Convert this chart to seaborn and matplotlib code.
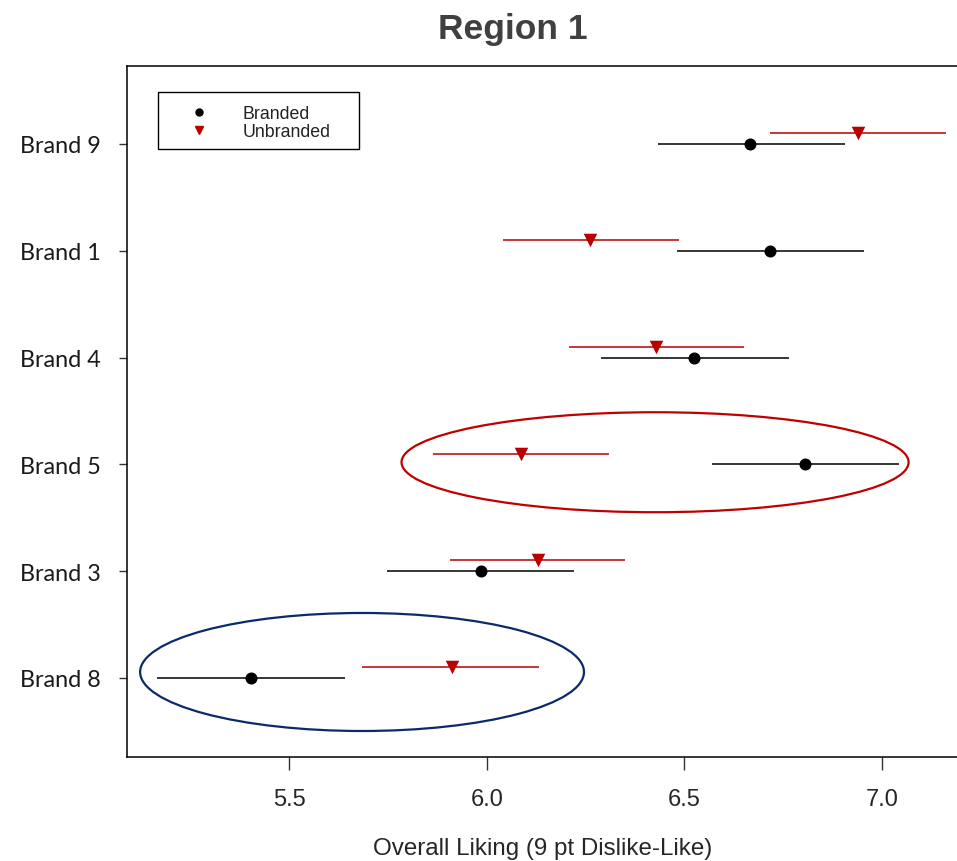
import matplotlib
matplotlib.use("Agg")
import matplotlib.pyplot as plt
from matplotlib.patches import Ellipse, Rectangle
from matplotlib.lines import Line2D
import seaborn as sns
import pandas as pd
import numpy as np

brands = ["Brand 8", "Brand 3", "Brand 5", "Brand 4", "Brand 1", "Brand 9"]
branded_mean = [5.404, 5.985, 6.805, 6.525, 6.716, 6.667]
branded_lo = [5.165, 5.746, 6.569, 6.289, 6.482, 6.434]
branded_hi = [5.642, 6.221, 7.043, 6.766, 6.954, 6.906]
unbranded_mean = [5.911, 6.129, 6.086, 6.429, 6.261, 6.939]
unbranded_lo = [5.685, 5.906, 5.863, 6.208, 6.041, 6.716]
unbranded_hi = [6.132, 6.350, 6.310, 6.652, 6.487, 7.162]

sns.set_style("white")
plt.rcParams['font.family'] = ['Liberation Sans', 'DejaVu Sans']

fig = plt.figure(figsize=(9.57, 8.62), dpi=100)
ax = fig.add_axes([127/957, 104/862, 1 - 127/957 + 0.002, 691/862])

ypos = np.arange(1, len(brands) + 1)
off = 0.1
df_b = pd.DataFrame({"y": ypos, "x": branded_mean, "lo": branded_lo, "hi": branded_hi})
df_u = pd.DataFrame({"y": ypos + off, "x": unbranded_mean, "lo": unbranded_lo, "hi": unbranded_hi})

RED = "#B80000"
ax.hlines(df_b["y"], df_b["lo"], df_b["hi"], color="black", lw=1.1, zorder=2)
ax.hlines(df_u["y"], df_u["lo"], df_u["hi"], color=RED, lw=1.1, zorder=2)
sns.scatterplot(data=df_b, x="x", y="y", ax=ax, marker="o", color="black", s=75,
                edgecolor="black", linewidth=0, zorder=3, legend=False)
sns.scatterplot(data=df_u, x="x", y="y", ax=ax, marker="v", color=RED, s=95,
                edgecolor=RED, linewidth=0, zorder=3, legend=False)

ax.add_patch(Ellipse((6.426, 3.02), 1.284, 0.936, fill=False, edgecolor="#C00000", lw=1.6, zorder=4))
ax.add_patch(Ellipse((5.684, 1.056), 1.124, 1.105, fill=False, edgecolor="#0A2A6B", lw=1.6, zorder=4))

ax.set_xlim(5.0888, 7.1954)
ax.set_ylim(0.26, 6.73)
ax.set_xticks([5.5, 6.0, 6.5, 7.0])
ax.set_xticklabels(["5.5", "6.0", "6.5", "7.0"], fontsize=17)
ax.set_yticks(ypos)
ax.set_yticklabels(brands, fontsize=16.8, family=['Lato', 'DejaVu Sans'], color="#1a1a1a")
ax.tick_params(axis="x", direction="out", length=9.4, width=1, color="#333333", bottom=True, pad=13)
ax.tick_params(axis="y", direction="out", length=6, width=1, color="#333333", left=True, pad=13)
for s in ["left", "bottom", "top"]:
    ax.spines[s].set_color("black")
    ax.spines[s].set_linewidth(1.1)
ax.spines["right"].set_visible(False)
ax.set_xlabel("Overall Liking (9 pt Dislike-Like)", fontsize=17.4, labelpad=19.5)
ax.set_ylabel("")

fig.text(513/957, 1 - 13/862, "Region 1", fontsize=25.5, fontweight="bold", color="#404040",
         ha="center", va="top")

# legend box
ax.add_patch(Rectangle((31/830, (758-150)/691), 200/830, 57/691, transform=ax.transAxes,
                       fill=False, edgecolor="black", lw=1.0, zorder=5))
handles = [Line2D([], [], marker="o", color="black", linestyle="none", markersize=5),
           Line2D([], [], marker="v", color=RED, linestyle="none", markersize=6)]
leg = ax.legend(handles, ["Branded", "Unbranded"], loc="upper left",
                bbox_to_anchor=(32/830, 1 - 30/691), frameon=False,
                fontsize=12.8, handletextpad=0.7, borderpad=0.5,
                labelspacing=0.07, handlelength=3.5, borderaxespad=0)
for t in leg.get_texts():
    t.set_color("#222222")

fig.savefig("out.png", dpi=100)
